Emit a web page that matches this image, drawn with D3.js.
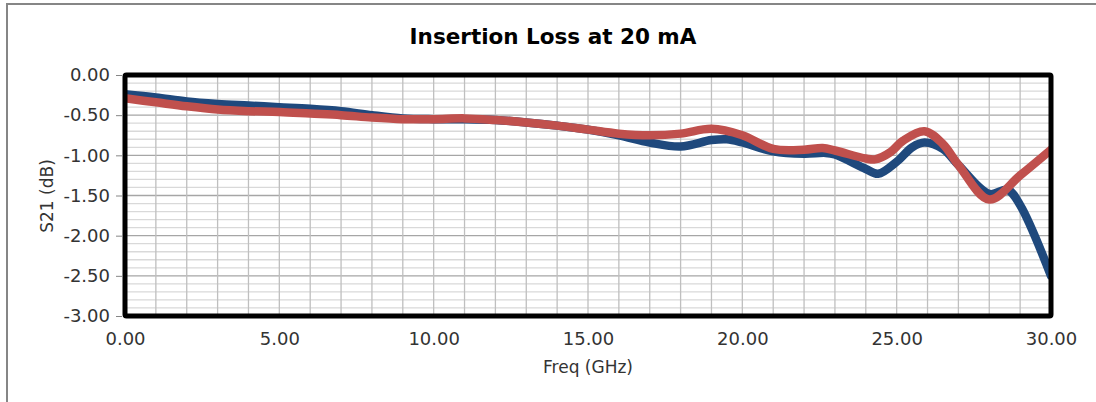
<!DOCTYPE html>
<html><head><meta charset="utf-8">
<script src="https://cdn.jsdelivr.net/npm/d3@7"></script>
<style>body{margin:0;background:#fff;overflow:hidden;} svg{display:block;font-family:"DejaVu Sans",Verdana,sans-serif;}</style>
</head><body>
<svg id="c" width="1096" height="402"></svg>
<script>
const title = "Insertion Loss at 20 mA";
const xTitle = "Freq (GHz)";
const yTitle = "S21 (dB)";
const xTicks = [0,5,10,15,20,25,30];
const yTicks = [0,-0.5,-1,-1.5,-2,-2.5,-3];
const blueFreq = [0,1,2,3,4,5,6,7,8,9,10,11,12,13,14,15,16,17,18,19,19.5,20,21,22,22.7,23,24,24.4,25,25.5,25.9,26.5,27,28,28.6,29,30];
const blueVals = [-0.24,-0.28,-0.33,-0.36,-0.38,-0.40,-0.42,-0.45,-0.50,-0.54,-0.55,-0.55,-0.56,-0.59,-0.63,-0.68,-0.75,-0.84,-0.89,-0.81,-0.80,-0.84,-0.95,-0.98,-0.97,-0.99,-1.17,-1.23,-1.08,-0.90,-0.84,-0.92,-1.12,-1.48,-1.43,-1.62,-2.50];
const redFreq = [0,1,2,3,4,5,6,7,8,9,10,11,12,13,14,15,16,17,18,19,20,21,22,22.6,23,24,24.3,24.8,25.2,25.9,26.5,27,28,29,30];
const redVals = [-0.29,-0.34,-0.39,-0.43,-0.45,-0.46,-0.48,-0.50,-0.53,-0.55,-0.55,-0.54,-0.56,-0.59,-0.63,-0.68,-0.73,-0.75,-0.73,-0.67,-0.75,-0.92,-0.93,-0.91,-0.94,-1.04,-1.05,-0.96,-0.82,-0.70,-0.86,-1.12,-1.55,-1.25,-0.93];

const svg = d3.select("#c");
const L=125, R=1051, T=75, B=316;
const x = d3.scaleLinear().domain([0,30]).range([L,R]);
const y = d3.scaleLinear().domain([0,-3]).range([T,B]);
const fmt = d => d3.format(".2f")(d).replace("\u2212","-");

// outer chart border: only left and top edges are visible
svg.append("path").attr("d","M7,402V4H1096").attr("fill","none")
  .attr("stroke","#868686").attr("stroke-width",2);

svg.append("text").attr("x",553).attr("y",44).attr("text-anchor","middle")
  .attr("font-size",21.5).attr("font-weight","bold").attr("fill","#000").text(title);

const g = svg.append("g");
g.selectAll(".hm").data(d3.range(0,31).map(i=>-i*0.1)).join("line")
  .attr("x1",L).attr("x2",R).attr("y1",d=>y(d)).attr("y2",d=>y(d))
  .attr("stroke",(d,i)=> i%5===0 ? "#a6a6a6" : "#d9d9d9").attr("stroke-width",1.3);
g.selectAll(".vg").data(d3.range(0,31)).join("line")
  .attr("y1",T).attr("y2",B).attr("x1",d=>x(d)).attr("x2",d=>x(d))
  .attr("stroke","#bfbfbf").attr("stroke-width",1.3);

const line = d3.line().curve(d3.curveCatmullRom.alpha(0.5)).x(d=>x(d[0])).y(d=>y(d[1]));
svg.append("clipPath").attr("id","cp").append("rect").attr("x",L).attr("y",T).attr("width",R-L).attr("height",B-T);
svg.append("path").attr("clip-path","url(#cp)").datum(blueFreq.map((f,i)=>[f,blueVals[i]])).attr("d",line)
  .attr("fill","none").attr("stroke","#1f497d").attr("stroke-width",8.5).attr("stroke-linecap","round").attr("stroke-linejoin","round");
svg.append("path").attr("clip-path","url(#cp)").datum(redFreq.map((f,i)=>[f,redVals[i]])).attr("d",line)
  .attr("fill","none").attr("stroke","#c0504d").attr("stroke-width",8.5).attr("stroke-linecap","round").attr("stroke-linejoin","round");

svg.append("rect").attr("x",L).attr("y",T).attr("width",R-L).attr("height",B-T)
  .attr("fill","none").attr("stroke","#000").attr("stroke-width",5).attr("rx",1.5);

const ya = svg.append("g").attr("transform",`translate(${L-3},0)`)
  .call(d3.axisLeft(y).tickValues(yTicks).tickFormat(fmt).tickSize(6).tickPadding(6));
ya.select(".domain").remove();
ya.selectAll("line").attr("stroke","#868686");
ya.selectAll("text").attr("font-size",18).attr("fill","#333").style("font-family","DejaVu Sans");

const xa = svg.append("g").attr("transform",`translate(0,${B+3})`)
  .call(d3.axisBottom(x).tickValues(xTicks).tickFormat(fmt).tickSize(0).tickPadding(13));
xa.select(".domain").remove();
xa.selectAll("text").attr("font-size",18).attr("fill","#333").style("font-family","DejaVu Sans");

svg.append("text").attr("x",588).attr("y",373).attr("text-anchor","middle")
  .attr("font-size",17).attr("fill","#333").text(xTitle);
svg.append("text").attr("transform","translate(53,196) rotate(-90)").attr("text-anchor","middle")
  .attr("font-size",17).attr("fill","#333").text(yTitle);
</script>
</body></html>
